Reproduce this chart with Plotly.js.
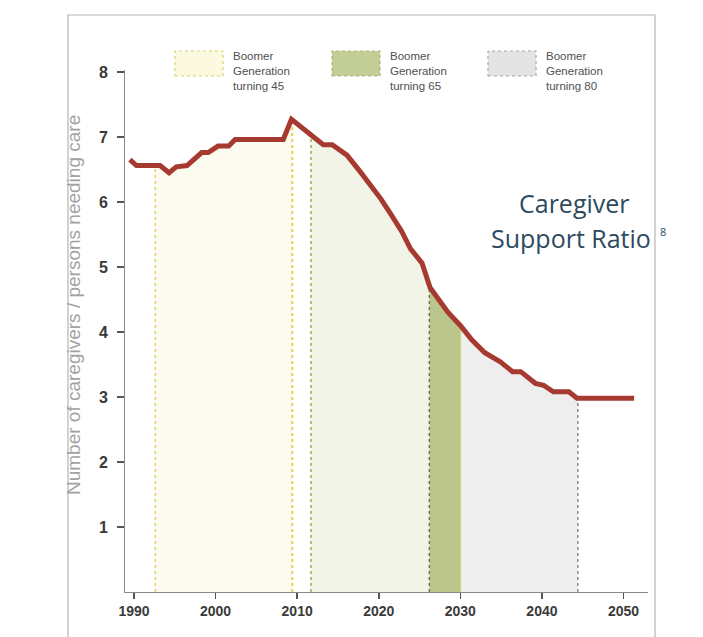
<!DOCTYPE html>
<html>
<head>
<meta charset="utf-8">
<script src="https://cdn.plot.ly/plotly-3.0.1.min.js"></script>
<style>html,body{margin:0;padding:0;background:#fff;}#chart{width:703px;height:637px;}</style>
</head>
<body>
<div id="chart"></div>
<script>
// ---- data ----
var years = [1989.5, 1990.3, 1993.2, 1994.3, 1995.2, 1996.5, 1998.3, 1999.1, 2000.3, 2001.6, 2002.4, 2008.3, 2009.3,
             2011.6, 2013.2, 2014.3, 2016.1, 2017.7, 2019.0, 2020.3, 2021.5, 2022.8, 2023.9, 2025.3, 2026.3, 2028.5,
             2030.0, 2031.4, 2033.0, 2034.9, 2036.4, 2037.4, 2039.2, 2040.2, 2041.4, 2043.3, 2044.3, 2051.3];
var ratio = [6.65, 6.56, 6.56, 6.45, 6.54, 6.56, 6.76, 6.76, 6.86, 6.86, 6.96, 6.96, 7.27,
             7.03, 6.88, 6.88, 6.72, 6.47, 6.27, 6.04, 5.81, 5.55, 5.28, 5.06, 4.68, 4.30,
             4.10, 3.88, 3.68, 3.54, 3.39, 3.39, 3.21, 3.18, 3.08, 3.08, 2.98, 2.98];
var bandNames = ["Boomer<br>Generation<br>turning 45", "Boomer<br>Generation<br>turning 65", "Boomer<br>Generation<br>turning 80"];
var band45 = [1992.6, 2009.4];
var band65 = [2011.7, 2030.0];
var band80 = [2026.2, 2044.4];
var xTicks = [1990, 2000, 2010, 2020, 2030, 2040, 2050];
var yTicks = [1, 2, 3, 4, 5, 6, 7, 8];

// ---- helpers ----
function valAt(x) {
  for (var i = 0; i < years.length - 1; i++) {
    if (x >= years[i] && x <= years[i + 1]) {
      var t = (x - years[i]) / (years[i + 1] - years[i]);
      return ratio[i] + t * (ratio[i + 1] - ratio[i]);
    }
  }
  return ratio[ratio.length - 1];
}
function segment(s, e) {
  var xs = [s], ys = [valAt(s)];
  for (var i = 0; i < years.length; i++) {
    if (years[i] > s && years[i] < e) { xs.push(years[i]); ys.push(ratio[i]); }
  }
  xs.push(e); ys.push(valAt(e));
  return {x: xs, y: ys};
}
function fillTrace(s, e, color) {
  var seg = segment(s, e);
  return {x: seg.x, y: seg.y, type: 'scatter', mode: 'lines', fill: 'tozeroy',
          fillcolor: color, line: {width: 0, color: color}, hoverinfo: 'skip', showlegend: false};
}
function edgeTrace(x, color, dash, w) {
  return {x: [x, x], y: [0, valAt(x)], type: 'scatter', mode: 'lines',
          line: {color: color, width: w || 1.5, dash: dash}, hoverinfo: 'skip', showlegend: false};
}

var L = 125, R = 55, T = 70, B = 45, W = 703, H = 637;
var pw = W - L - R, ph = H - T - B;
function xp(px) { return (px - L) / pw; }
function yp(py) { return (H - B - py) / ph; }

var traces = [
  fillTrace(band45[0], band45[1], '#fcfbf0'),
  fillTrace(band65[0], band80[0], '#f1f4e6'),
  fillTrace(band80[0], band65[1], '#bcc68c'),
  fillTrace(band65[1], band80[1], '#eeeeee'),
  edgeTrace(band45[0], '#e2d46a', 'dot', 1.5),
  edgeTrace(band45[1], '#e2d046', 'dot', 2),
  edgeTrace(band65[0], '#b4c070', 'dot', 2),
  edgeTrace(band80[0], '#6e7352', 'dot', 1.5),
  edgeTrace(band65[1], '#c9d27a', 'solid', 1.5),
  edgeTrace(band80[1], '#8a8a8a', 'dot', 1.5),
  {x: years, y: ratio, type: 'scatter', mode: 'lines', line: {color: '#a63a30', width: 5},
   hoverinfo: 'skip', showlegend: false}
];

var legendFill = ['#fbf9e0', '#c3cd96', '#e4e4e4'];
var legendLine = ['#e0d070', '#a9b67c', '#a8a8a8'];
var legendX = [175, 332, 488];
var shapes = [
  // scanned page frame
  {type: 'path', xref: 'paper', yref: 'paper',
   path: 'M ' + xp(68) + ' ' + yp(640) + ' L ' + xp(68) + ' ' + yp(15) + ' L ' + xp(655) + ' ' + yp(15) + ' L ' + xp(655) + ' ' + yp(640),
   line: {color: '#b5b5b5', width: 1.2}}
];
var annotations = [];
for (var k = 0; k < 3; k++) {
  shapes.push({type: 'rect', xref: 'paper', yref: 'paper',
    x0: xp(legendX[k]), x1: xp(legendX[k] + 48), y0: yp(76), y1: yp(51),
    fillcolor: legendFill[k], line: {color: legendLine[k], width: 1.2, dash: 'dot'}});
  annotations.push({xref: 'paper', yref: 'paper', x: xp(legendX[k] + 56), y: yp(48),
    xanchor: 'left', yanchor: 'top', align: 'left', showarrow: false, text: bandNames[k],
    font: {family: 'Liberation Sans, Arial', size: 11.5, color: '#4f4f4f'}});
}
annotations.push({xref: 'paper', yref: 'paper', x: xp(574), y: yp(203), xanchor: 'center', yanchor: 'middle',
  showarrow: false, text: 'Caregiver', font: {family: 'Open Sans', size: 25, color: '#2d4a5e'}});
annotations.push({xref: 'paper', yref: 'paper', x: xp(571), y: yp(238), xanchor: 'center', yanchor: 'middle',
  showarrow: false, text: 'Support Ratio', font: {family: 'Open Sans', size: 25, color: '#2d4a5e'}});
annotations.push({xref: 'paper', yref: 'paper', x: xp(663), y: yp(231), xanchor: 'center', yanchor: 'middle',
  showarrow: false, text: '8', font: {family: 'Open Sans', size: 11, color: '#2d4a5e'}});
annotations.push({xref: 'paper', yref: 'paper', x: xp(73), y: yp(305), xanchor: 'center', yanchor: 'middle',
  textangle: -90, showarrow: false, text: 'Number of caregivers / persons needing care',
  font: {family: 'Liberation Sans, Arial', size: 19, color: '#a2a2a2'}});

var layout = {
  width: W, height: H,
  margin: {l: L, r: R, t: T, b: B},
  paper_bgcolor: '#ffffff', plot_bgcolor: '#ffffff',
  showlegend: false,
  xaxis: {range: [1988.9, 2053], tickvals: xTicks, ticktext: xTicks.map(String),
    showgrid: false, zeroline: false, showline: true, linecolor: '#8a8a8a', linewidth: 1,
    ticks: 'outside', ticklen: 6, tickcolor: '#555', tickwidth: 1.5,
    tickfont: {family: 'Liberation Sans, Arial', size: 14, color: '#3a3a3a', weight: 'bold'}},
  yaxis: {range: [0, 8.03], tickvals: yTicks, ticktext: yTicks.map(String),
    showgrid: false, zeroline: false, showline: true, linecolor: '#8a8a8a', linewidth: 1,
    ticks: 'outside', ticklen: 7, tickcolor: '#555', tickwidth: 1.5, ticklabelstandoff: 6,
    tickfont: {family: 'Liberation Sans, Arial', size: 16, color: '#3a3a3a', weight: 'bold'}},
  shapes: shapes,
  annotations: annotations
};

Plotly.newPlot('chart', traces, layout, {displayModeBar: false, staticPlot: true});
</script>
</body>
</html>
